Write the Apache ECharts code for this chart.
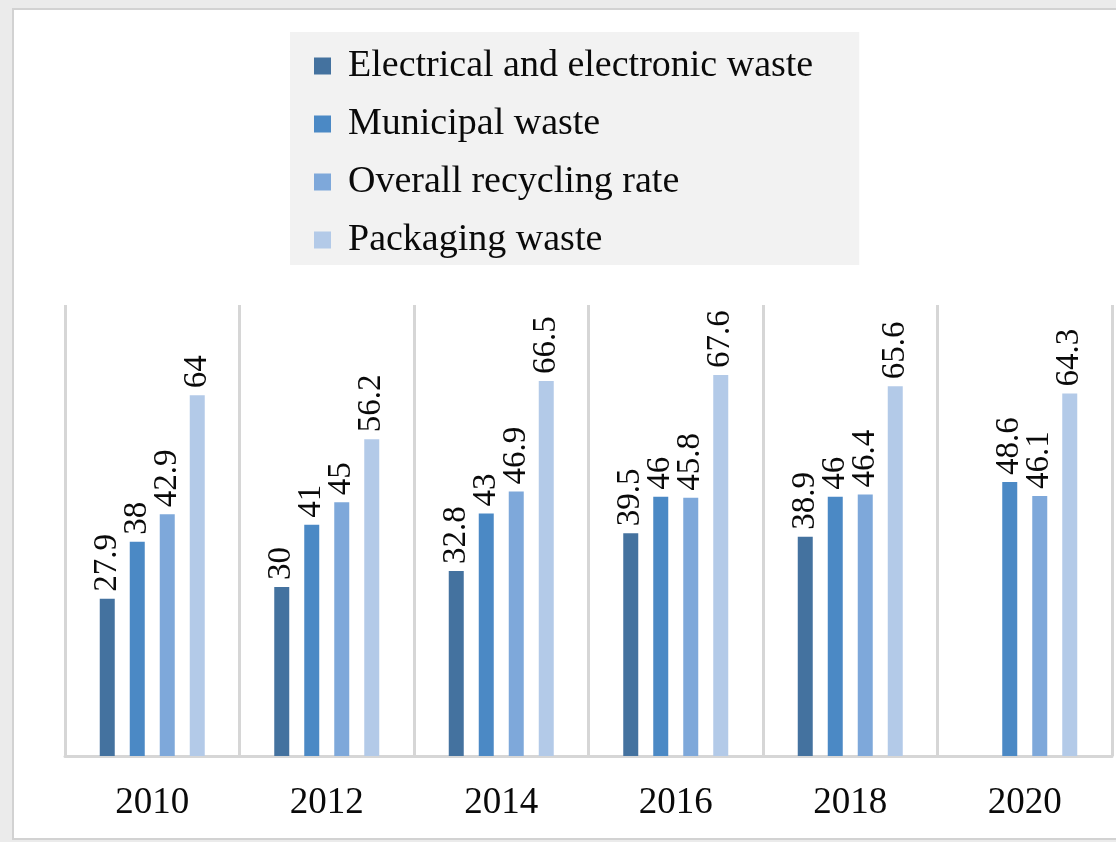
<!DOCTYPE html>
<html>
<head>
<meta charset="utf-8">
<script src="https://cdn.jsdelivr.net/npm/echarts@6/dist/echarts.min.js"></script>
<style>
  html, body { margin: 0; padding: 0; background: #ebebeb; }
  #frame {
    position: absolute; left: 12px; top: 8px; width: 1112px; height: 832px;
    background: #ffffff; border: 2px solid #d2d2d2; box-sizing: border-box;
  }
  #chart { position: absolute; left: 0; top: 0; width: 1116px; height: 842px; }
</style>
</head>
<body>
<div id="frame"></div>
<div id="chart"></div>
<script>
// Recycling rates by year (%)
const years = ['2010', '2012', '2014', '2016', '2018', '2020'];
const seriesNames = [
  'Electrical and electronic waste',
  'Municipal waste',
  'Overall recycling rate',
  'Packaging waste'
];
const electrical = [27.9, 30, 32.8, 39.5, 38.9, null];
const municipal = [38, 41, 43, 46, 46, 48.6];
const overall = [42.9, 45, 46.9, 45.8, 46.4, 46.1];
const packaging = [64, 56.2, 66.5, 67.6, 65.6, 64.3];

const colors = ['#44729f', '#4b89c5', '#7ea8da', '#b3cae8'];
const serif = '"Liberation Serif", "Times New Roman", serif';

const chart = echarts.init(document.getElementById('chart'), null, { renderer: 'canvas' });

function barSeries(name, data, color) {
  return {
    name: name,
    type: 'bar',
    data: data,
    barWidth: 15,
    barGap: '100%',
    itemStyle: { color: color },
    label: {
      show: true,
      position: 'top',
      rotate: 90,
      align: 'left',
      verticalAlign: 'middle',
      distance: 7,
      fontFamily: serif,
      fontSize: 33,
      color: '#0a0a0a',
      formatter: p => (p.value == null ? '' : String(p.value))
    }
  };
}

chart.setOption({
  backgroundColor: 'transparent',
  animation: false,
  color: colors,
  legend: {
    orient: 'vertical',
    left: 290,
    top: 32,
    backgroundColor: '#f2f2f2',
    padding: [15, 46, 6, 24],
    itemWidth: 17,
    itemHeight: 17,
    itemGap: 20,
    icon: 'rect',
    textStyle: {
      fontFamily: serif,
      fontSize: 38,
      color: '#0a0a0a',
      padding: [0, 0, 0, 12]
    },
    data: seriesNames
  },
  grid: { left: 65, right: 4, top: 305, bottom: 86, containLabel: false },
  xAxis: {
    type: 'category',
    data: years,
    boundaryGap: true,
    axisLine: { show: true, lineStyle: { color: '#d6d6d6', width: 3 } },
    axisTick: { show: false },
    splitLine: { show: true, lineStyle: { color: '#d6d6d6', width: 3 } },
    axisLabel: {
      margin: 29,
      fontFamily: serif,
      fontSize: 37,
      color: '#0a0a0a'
    }
  },
  yAxis: {
    type: 'value',
    min: 0,
    max: 80,
    show: false,
    splitLine: { show: false }
  },
  series: [
    barSeries(seriesNames[0], electrical, colors[0]),
    barSeries(seriesNames[1], municipal, colors[1]),
    barSeries(seriesNames[2], overall, colors[2]),
    barSeries(seriesNames[3], packaging, colors[3])
  ]
});
</script>
</body>
</html>
